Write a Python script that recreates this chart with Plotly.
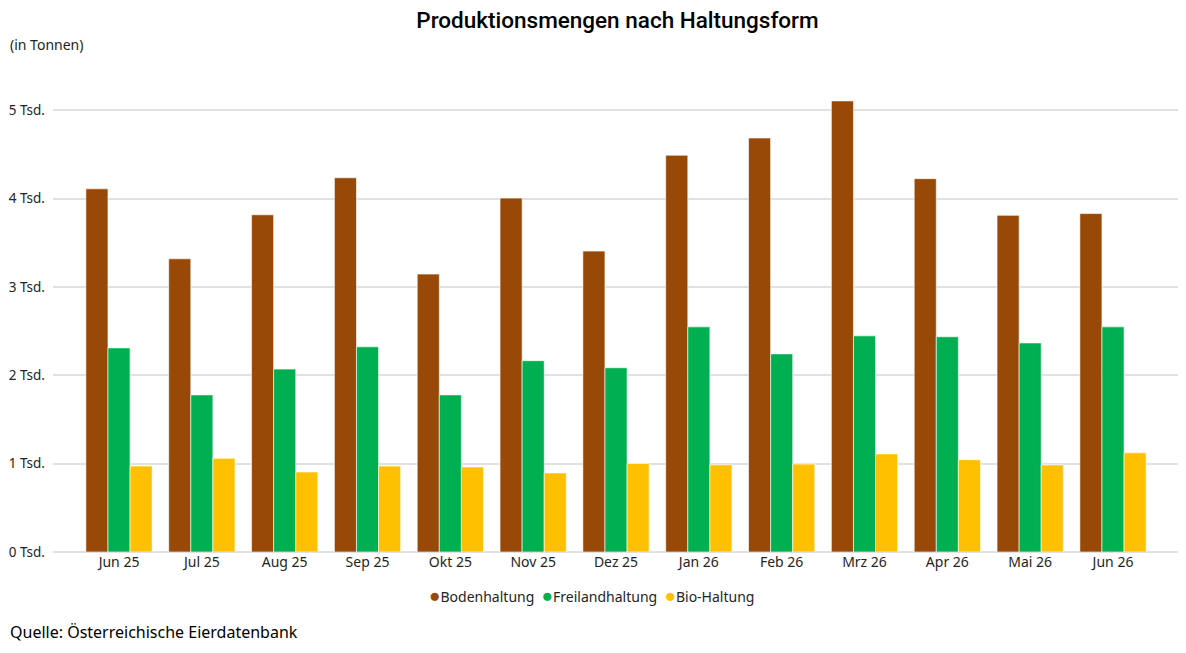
import plotly.graph_objects as go

months = ['Jun 25', 'Jul 25', 'Aug 25', 'Sep 25', 'Okt 25', 'Nov 25', 'Dez 25',
          'Jan 26', 'Feb 26', 'Mrz 26', 'Apr 26', 'Mai 26', 'Jun 26']
boden = [4110, 3318, 3816, 4235, 3145, 4005, 3405, 4490, 4685, 5105, 4225, 3810, 3830]
freiland = [2310, 1778, 2070, 2322, 1778, 2165, 2085, 2548, 2242, 2446, 2436, 2366, 2548]
bio = [973, 1060, 905, 972, 962, 895, 1002, 986, 995, 1110, 1045, 985, 1122]

series = [('Bodenhaltung', boden, '#984807'),
          ('Freilandhaltung', freiland, '#00B050'),
          ('Bio-Haltung', bio, '#FFC000')]

y_ticks = [0, 1000, 2000, 3000, 4000, 5000]
y_tick_text = ['0 Tsd.', '1 Tsd.', '2 Tsd.', '3 Tsd.', '4 Tsd.', '5 Tsd.']

font = 'Noto Sans, Open Sans, sans-serif'

fig = go.Figure()
for name, vals, col in series:
    fig.add_trace(go.Bar(x=months, y=vals, name=name, marker_color=col,
                         marker_line=dict(color='rgba(255,255,255,0.6)', width=1),
                         hovertemplate='%{x}<br>' + name + ': %{y:,.0f} t<extra></extra>'))

# the page body adds an 8px offset, margins are set with that in mind
fig.update_layout(
    width=1186, height=653,
    margin=dict(l=45, r=12, t=58, b=109, autoexpand=False),
    paper_bgcolor='white', plot_bgcolor='white',
    barmode='group', bargap=0.2, bargroupgap=0,
    font=dict(family=font, size=14, color='#252423'),
    title=dict(text='Produktionsmengen nach Haltungsform', x=0.5, xref='paper',
               xanchor='center', yref='container', y=0.981, yanchor='middle',
               font=dict(family='Roboto, sans-serif', size=22.5, weight=500,
                         color='#000000')),
    showlegend=False,
)
fig.update_xaxes(type='category', range=[-0.797, 12.833], showgrid=False,
                 showline=False, ticks='', tickfont=dict(size=14, color='#252423'))
fig.update_yaxes(range=[0, 5500], tickvals=y_ticks, ticktext=y_tick_text,
                 showgrid=True, gridcolor='#E1E1E1', gridwidth=1.5,
                 zeroline=True, zerolinecolor='#E1E1E1', zerolinewidth=1.5,
                 ticks='', ticklabelstandoff=7,
                 tickfont=dict(size=13.5, color='#252423'))

# compact legend with round markers, as in the source
legend_text = '  '.join(
    f'<span style="color:{col};font-size:19px">●</span>{name}' for name, _, col in series)
fig.add_annotation(text=legend_text, xref='paper', yref='paper', x=0.477, y=-0.089,
                   xanchor='center', yanchor='middle', showarrow=False,
                   font=dict(size=14, color='#252423'))

fig.add_annotation(text='(in Tonnen)', xref='paper', yref='paper', x=-0.0398, y=1.045,
                   xanchor='left', yanchor='middle', showarrow=False,
                   font=dict(size=14, color='#252423'))
fig.add_annotation(text='Quelle: Österreichische Eierdatenbank', xref='paper', yref='paper',
                   x=-0.0398, y=-0.165, xanchor='left', yanchor='middle', showarrow=False,
                   font=dict(size=16, color='#000000'))

fig.write_html('out.html')
